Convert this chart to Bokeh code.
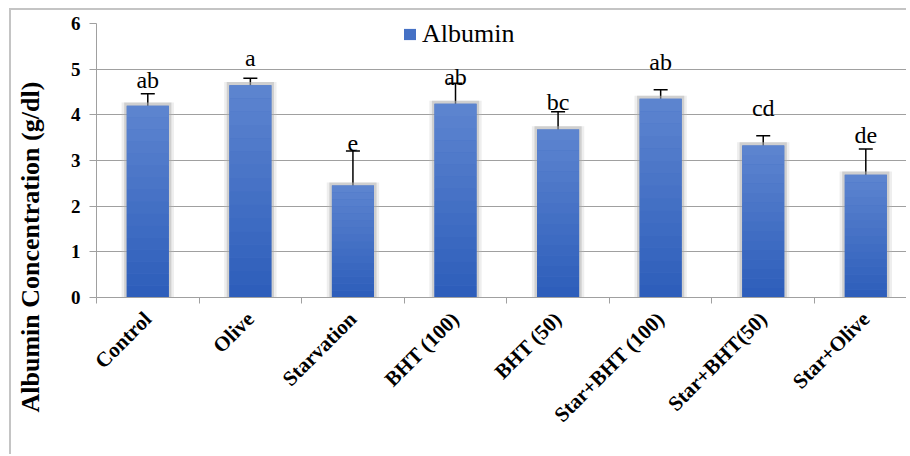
from math import pi
from bokeh.plotting import figure
from bokeh.models import (Range1d, FixedTicker, Whisker, TeeHead, ColumnDataSource,
                          Legend, LegendItem, Title)
from bokeh.core.properties import value
from bokeh.embed import file_html
from bokeh.resources import INLINE

# ---- data ----
categories = ["Control", "Olive", "Starvation", "BHT (100)", "BHT (50)",
              "Star+BHT (100)", "Star+BHT(50)", "Star+Olive"]
albumin = [4.20, 4.65, 2.45, 4.24, 3.68, 4.35, 3.33, 2.69]
albumin_se = [0.26, 0.15, 0.76, 0.45, 0.39, 0.20, 0.21, 0.56]
letters = ["ab", "a", "e", "ab", "bc", "ab", "cd", "de"]
y_ticks = [0, 1, 2, 3, 4, 5, 6]
series_name = "Albumin"
y_title = "Albumin Concentration (g/dl)"

# ---- styling / placement (not data) ----
letter_offsets_px = [-26, -27, -42, -27, -27, -37, -37, -40]
BAR_W = 0.41
SERIF = "Liberation Serif"
TOP_RGB = (94, 133, 208)
BOT_RGB = (44, 93, 186)
N_SLICES = 16

n = len(categories)
centers = [i + 0.5 for i in range(n)]
bounds = [i for i in range(n + 1)]

p = figure(width=897, height=446, output_backend="svg", toolbar_location=None,
           x_range=Range1d(0, 813 / 102.7), y_range=Range1d(0, 6),
           min_border_left=84, min_border_right=0, min_border_top=13,
           min_border_bottom=159,
           styles={"margin-left": "9px", "margin-top": "8px",
                   "border-left": "2px solid #c4c4c4",
                   "border-top": "2px solid #c4c4c4"})
p.outline_line_color = None
p.background_fill_color = "white"
p.border_fill_color = "white"

# grid
p.xgrid.grid_line_color = None
p.ygrid.grid_line_color = "#a0a0a0"
p.ygrid.grid_line_width = 1
p.ygrid.ticker = FixedTicker(ticks=y_ticks[1:])

# shadows
src_bar = ColumnDataSource(dict(x=centers, top=albumin,
                                stop=[v + 0.07 for v in albumin]))
p.vbar(x="x", top="stop", bottom=0, width=BAR_W + 0.10, source=src_bar,
       fill_color="#bdbdbd", fill_alpha=0.25, line_color=None)
p.vbar(x="x", top="stop", bottom=0, width=BAR_W + 0.05, source=src_bar,
       fill_color="#a8a8a8", fill_alpha=0.45, line_color=None)

# base bar
mid = tuple((a + b) // 2 for a, b in zip(TOP_RGB, BOT_RGB))
mid_hex = "#%02x%02x%02x" % mid
base = p.vbar(x="x", top="top", bottom=0, width=BAR_W, source=src_bar,
              fill_color=mid_hex, line_color=None)

# gradient slices computed from each bar's value
sx, sb, st, sc = [], [], [], []
for i, v in enumerate(albumin):
    for k in range(N_SLICES):
        f = (k + 0.5) / N_SLICES
        rgb = tuple(int(round(b + (t - b) * f)) for t, b in zip(TOP_RGB, BOT_RGB))
        sx.append(centers[i])
        sb.append(v * k / N_SLICES)
        st.append(v * (k + 1) / N_SLICES)
        sc.append("#%02x%02x%02x" % rgb)
p.vbar(x="x", bottom="b", top="t", width=BAR_W, fill_color="c", line_color=None,
       source=ColumnDataSource(dict(x=sx, b=sb, t=st, c=sc)))

# error bars
src_err = ColumnDataSource(dict(x=centers,
                                lo=[v - e for v, e in zip(albumin, albumin_se)],
                                hi=[v + e for v, e in zip(albumin, albumin_se)]))
w = Whisker(base="x", lower="lo", upper="hi", source=src_err, dimension="height",
            line_color="black", line_width=1.5,
            upper_head=TeeHead(size=14, line_color="black", line_width=1.5),
            lower_head=TeeHead(size=14, line_color="black", line_width=1.5))
p.add_layout(w)

# significance letters
p.text(x="x", y="y", text="t", y_offset="yo",
       source=ColumnDataSource(dict(x=centers, y=albumin, t=letters,
                                    yo=letter_offsets_px)),
       text_font=value(SERIF), text_font_size="24px", text_color="black",
       text_align="center", text_baseline="alphabetic")

# axes
xa = p.xaxis[0]
xa.ticker = FixedTicker(ticks=centers, minor_ticks=bounds)
xa.major_label_overrides = {c: lab for c, lab in zip(centers, categories)}
xa.major_label_orientation = pi / 4
xa.major_label_text_font = SERIF
xa.major_label_text_font_style = "bold"
xa.major_label_text_font_size = "21px"
xa.major_label_text_color = "black"
xa.major_tick_in = 0
xa.major_tick_out = 0
xa.minor_tick_in = 0
xa.minor_tick_out = 6
xa.minor_tick_line_color = "#a0a0a0"
xa.axis_line_color = "#a0a0a0"
xa.major_label_standoff = 12

ya = p.yaxis[0]
ya.ticker = FixedTicker(ticks=y_ticks)
ya.major_label_text_font = SERIF
ya.major_label_text_font_style = "bold"
ya.major_label_text_font_size = "19px"
ya.major_label_text_color = "black"
ya.major_tick_in = 0
ya.major_tick_out = 7
ya.major_tick_line_color = "#a0a0a0"
ya.minor_tick_line_color = None
ya.axis_line_color = "#a0a0a0"
ya.major_label_standoff = 9
# invisible spacer label to push the outer title further left
ya.axis_label = " "
ya.axis_label_text_font_size = "4px"
ya.axis_label_standoff = 13

# y-axis title (outer left panel)
p.add_layout(Title(text=y_title, align="left", offset=-115, standoff=4,
                   text_font=SERIF, text_font_style="bold", text_font_size="26px",
                   text_color="black"), "left")

# legend
legend = Legend(items=[LegendItem(label=series_name, renderers=[base])],
                location=(306, 247), orientation="horizontal",
                border_line_color=None, background_fill_alpha=0,
                padding=0, margin=0, glyph_width=15, glyph_height=14,
                label_standoff=5, label_height=32, label_text_font=SERIF,
                label_text_font_size="26px", label_text_color="black")
p.add_layout(legend)

open("out.html", "w").write(file_html(p, INLINE))
